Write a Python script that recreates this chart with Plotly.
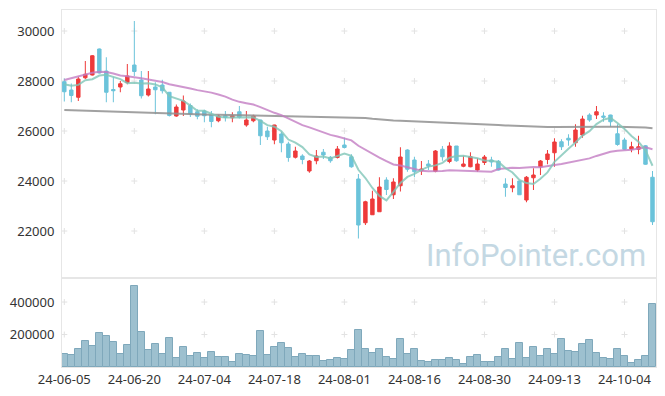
import plotly.graph_objects as go
import pandas as pd

dates = ["24-06-05","24-06-07","24-06-10","24-06-11","24-06-12","24-06-13","24-06-14","24-06-17","24-06-18","24-06-19",
         "24-06-20","24-06-21","24-06-24","24-06-25","24-06-26","24-06-27","24-06-28","24-07-01","24-07-02","24-07-03",
         "24-07-04","24-07-05","24-07-08","24-07-09","24-07-10","24-07-11","24-07-12","24-07-15","24-07-16","24-07-17",
         "24-07-18","24-07-19","24-07-22","24-07-23","24-07-24","24-07-25","24-07-26","24-07-29","24-07-30","24-07-31",
         "24-08-01","24-08-02","24-08-05","24-08-06","24-08-07","24-08-08","24-08-09","24-08-12","24-08-13","24-08-14",
         "24-08-16","24-08-19","24-08-20","24-08-21","24-08-22","24-08-23","24-08-26","24-08-27","24-08-28","24-08-29",
         "24-08-30","24-09-02","24-09-03","24-09-04","24-09-05","24-09-06","24-09-09","24-09-10","24-09-11","24-09-12",
         "24-09-13","24-09-19","24-09-20","24-09-23","24-09-24","24-09-25","24-09-26","24-09-27","24-09-30","24-10-02",
         "24-10-04","24-10-07","24-10-08","24-10-10","24-10-11"]

opens = [27970, 27640, 27350, 28130, 28240, 29280, 28400, 27660, 27760, 27940,
         28640, 28040, 27440, 27760, 27840, 27550, 26600, 26840, 27020, 26770,
         26800, 26640, 26410, 26610, 26530, 26770, 26240, 26410, 26440, 26000,
         25640, 25880, 25480, 24950, 25000, 24400, 24810, 25150, 24950, 24940,
         25440, 24970, 24080, 22330, 22650, 22770, 24040, 23450, 23810, 25240,
         24840, 24410, 24680, 24390, 25270, 24780, 25400, 24590, 24570, 24440,
         24740, 24840, 24790, 23880, 23730, 24000, 23240, 24130, 24570, 24860,
         25130, 25570, 25710, 25530, 25840, 26640, 26640, 26600, 26640, 25890,
         25640, 25270, 25270, 25410, 24150]
highs = [28100, 27900, 28170, 28800, 29040, 29300, 28950, 28150, 28000, 28680,
         30400, 28400, 28400, 27950, 28050, 27560, 27060, 27420, 27100, 26870,
         26850, 26800, 26650, 26800, 26750, 27000, 26800, 26650, 26450, 26170,
         26250, 25970, 25570, 25370, 25070, 24840, 25240, 25280, 25000, 25400,
         25740, 25070, 24280, 23210, 23610, 24150, 24150, 24110, 25350, 25270,
         24970, 24800, 24840, 25240, 25400, 25550, 25400, 25010, 25150, 24910,
         25040, 24970, 24840, 24110, 24110, 24000, 24200, 24510, 24840, 25240,
         25710, 25670, 25870, 26270, 26610, 26710, 27000, 26750, 26650, 26270,
         25730, 25570, 25810, 25440, 24400]
lows = [27180, 27150, 27200, 28080, 28220, 28300, 27150, 27150, 27550, 27870,
        28200, 27300, 27380, 26670, 27500, 26580, 26570, 26600, 26560, 26470,
        26350, 26150, 26350, 26380, 26350, 26500, 26170, 26350, 25440, 25640,
        25470, 25150, 24770, 24900, 24670, 24330, 24670, 24880, 24730, 24900,
        25300, 24530, 21700, 22240, 22640, 22770, 23440, 23280, 23580, 24370,
        24150, 24240, 24440, 24350, 24810, 24710, 24770, 24550, 24550, 24370,
        24640, 24570, 24420, 23370, 23550, 23440, 23150, 23640, 24240, 24670,
        24570, 25240, 25410, 25370, 25730, 26370, 26480, 26370, 26170, 25410,
        25240, 25150, 25070, 24650, 22240]
closes = [27570, 27420, 28080, 28270, 29010, 28320, 27550, 27610, 27890, 28200,
          28380, 27410, 27680, 27650, 27610, 26620, 26960, 27200, 26680, 26590,
          26610, 26380, 26600, 26540, 26610, 26550, 26440, 26600, 25810, 25770,
          26240, 25530, 24940, 25200, 24860, 24800, 25000, 25040, 24810, 25280,
          25340, 24570, 22240, 23170, 23280, 23760, 23660, 23960, 24960, 24470,
          24370, 24480, 24600, 25200, 24970, 25400, 24810, 24680, 24970, 24680,
          24960, 24760, 24440, 23740, 23810, 23450, 24150, 24240, 24800, 25080,
          25560, 25370, 25640, 26040, 26480, 26440, 26770, 26550, 26370, 25460,
          25270, 25370, 25370, 24670, 22370]
volumes = [81600, 75500, 112000, 163000, 131000, 210000, 192000, 155000, 81600, 137000,
           500000, 216000, 106000, 143000, 81600, 180000, 57000, 124000, 69000, 88000,
           57000, 94000, 63000, 63000, 33000, 81600, 75500, 69000, 222000, 75500,
           124000, 149000, 118000, 63000, 81600, 69000, 69000, 39000, 45000, 57000,
           51000, 106000, 228000, 112000, 88000, 112000, 63000, 51000, 173000, 81600,
           112000, 39000, 33000, 45000, 45000, 57000, 45000, 20000, 63000, 75500,
           33000, 33000, 63000, 112000, 51000, 149000, 57000, 124000, 69000, 112000,
           81600, 173000, 100000, 94000, 143000, 167000, 88000, 57000, 51000, 112000,
           69000, 26500, 45000, 69000, 390000]

# moving-average values before enough in-window closes exist
ma5_head = [27870, 27810, 27845, 28030]
ma20_head = [28040, 28110, 28200, 28260, 28330, 28370, 28360, 28300, 28220, 28190,
             28160, 28110, 28060, 28010, 27960, 27870, 27820, 27760, 27700]
ma120 = [26840, 26830, 26820, 26810, 26800, 26790, 26780, 26770, 26760, 26750,
         26740, 26730, 26720, 26710, 26700, 26690, 26685, 26680, 26675, 26670,
         26660, 26655, 26650, 26645, 26640, 26635, 26630, 26625, 26620, 26615,
         26610, 26605, 26600, 26595, 26590, 26585, 26580, 26575, 26570, 26565,
         26560, 26550, 26540, 26520, 26490, 26460, 26430, 26420, 26410, 26400,
         26390, 26380, 26365, 26350, 26340, 26330, 26320, 26310, 26300, 26290,
         26280, 26260, 26240, 26225, 26210, 26195, 26180, 26170, 26165, 26160,
         26160, 26165, 26170, 26175, 26180, 26180, 26180, 26178, 26175, 26172,
         26170, 26165, 26160, 26140, 26110]

price_ticks = [22000, 24000, 26000, 28000, 30000]
vol_ticks = [200000, 400000]

cs = pd.Series(closes, dtype=float)
ma5 = cs.rolling(5).mean().tolist()
ma5[:len(ma5_head)] = ma5_head
ma20 = cs.rolling(20).mean().tolist()
ma20[:len(ma20_head)] = ma20_head

RED = "#EE3A3A"
BLUE = "#6BC3DA"
FONT = "Noto Sans"
xticks = dates[::10]

fig = go.Figure()

fig.add_trace(go.Candlestick(x=dates, open=opens, high=highs, low=lows, close=closes,
                             xaxis="x", yaxis="y",
                             increasing=dict(line=dict(color=RED, width=1), fillcolor=RED),
                             decreasing=dict(line=dict(color=BLUE, width=1), fillcolor=BLUE),
                             whiskerwidth=0, showlegend=False))

fig.add_trace(go.Scatter(x=dates, y=ma120, mode="lines", xaxis="x", yaxis="y",
                         line=dict(color="rgba(145,145,145,0.85)", width=2), showlegend=False))
fig.add_trace(go.Scatter(x=dates, y=ma20, mode="lines", xaxis="x", yaxis="y",
                         line=dict(color="rgba(195,125,195,0.8)", width=2), showlegend=False))
fig.add_trace(go.Scatter(x=dates, y=ma5, mode="lines", xaxis="x", yaxis="y",
                         line=dict(color="rgba(128,198,184,0.8)", width=2), showlegend=False))

fig.add_trace(go.Bar(x=dates, y=volumes, xaxis="x2", yaxis="y2",
                     marker=dict(color="#9DC0CF", line=dict(color="#7FA8BB", width=1)),
                     showlegend=False))

# faint "+" grid markers at tick intersections, drawn below the data
shapes = []
CROSS = "#e2e2e2"
def add_cross(xref, yref, xv, yv):
    shapes.append(dict(type="line", xref=xref, yref=yref, layer="below",
                       xsizemode="pixel", xanchor=xv, x0=-3, x1=3, y0=yv, y1=yv,
                       line=dict(color=CROSS, width=1)))
    shapes.append(dict(type="line", xref=xref, yref=yref, layer="below",
                       ysizemode="pixel", yanchor=yv, y0=-3, y1=3, x0=xv, x1=xv,
                       line=dict(color=CROSS, width=1)))
for t in xticks:
    for v in price_ticks:
        add_cross("x", "y", t, v)
    for v in vol_ticks:
        add_cross("x2", "y2", t, v)

split = (367 - 278) / 357.0
axis_common = dict(showgrid=False, zeroline=False, showline=True, linecolor="#e6e6e6",
                   linewidth=1, mirror=True, ticks="", automargin=False)
xr = [-0.33, 84.5]
fig.update_layout(
    width=665, height=396,
    margin=dict(l=62, r=9, t=10, b=29, autoexpand=False),
    paper_bgcolor="white", plot_bgcolor="white",
    font=dict(family=FONT, size=13, color="#333333"),
    bargap=0,
    showlegend=False,
    shapes=shapes,
    xaxis=dict(type="category", range=xr, domain=[0, 1], anchor="y",
               showticklabels=False, rangeslider=dict(visible=False),
               categoryorder="array", categoryarray=dates, **axis_common),
    yaxis=dict(range=[20120, 30840], domain=[split, 1], anchor="x", ticklabelstandoff=4,
               tickvals=price_ticks, ticktext=[str(v) for v in price_ticks], **axis_common),
    xaxis2=dict(type="category", range=xr, domain=[0, 1], anchor="y2",
                tickvals=xticks, ticktext=xticks, matches="x",
                categoryorder="array", categoryarray=dates, **axis_common),
    yaxis2=dict(range=[0, 548000], domain=[0, split], anchor="x2", ticklabelstandoff=4,
                tickvals=vol_ticks, ticktext=[str(v) for v in vol_ticks], **axis_common),
    annotations=[dict(text="InfoPointer.com", xref="paper", yref="paper",
                      x=0.986, y=(367 - 255) / 357.0, xanchor="right", yanchor="middle",
                      showarrow=False,
                      font=dict(family="Roboto", size=31, color="#C4D8E3"))],
)

fig.write_html("out.html",
               config={"displayModeBar": False},
               post_script="document.body.style.margin='0';document.body.style.overflow='hidden';")
